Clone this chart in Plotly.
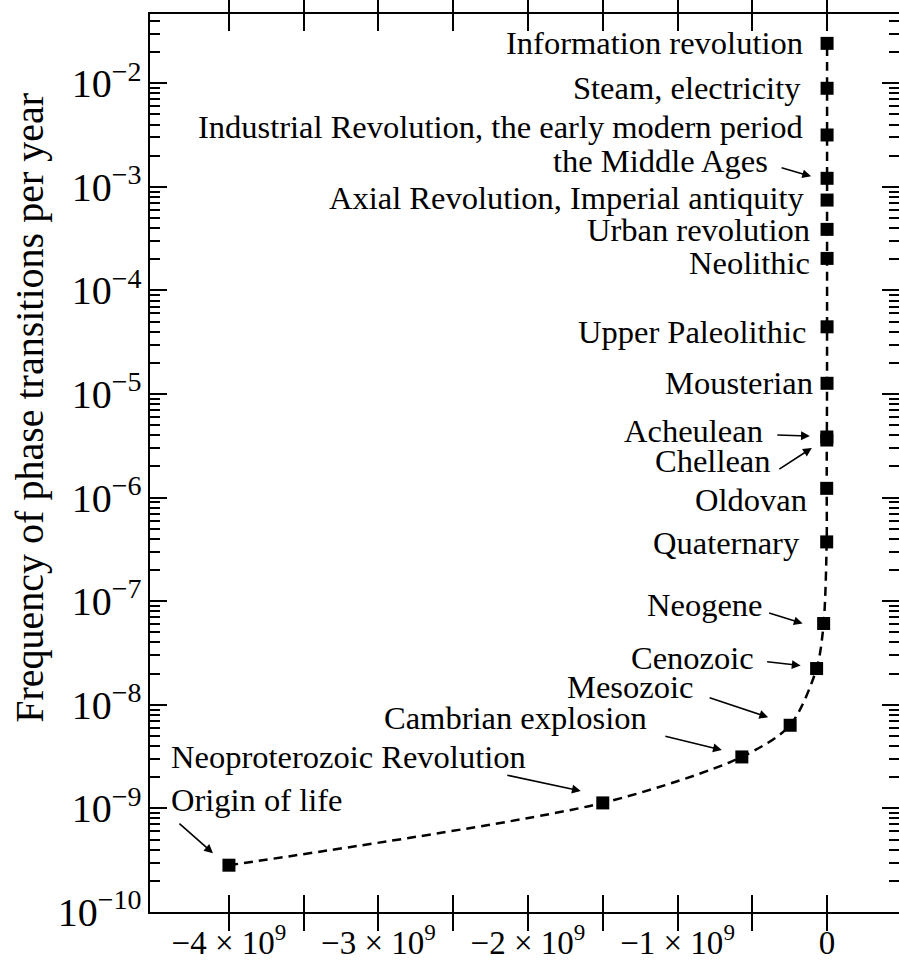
import numpy as np
import plotly.graph_objects as go

# Phase transitions: time (years, relative to present) and frequency (transitions per year)
event = [
    "Origin of life",
    "Neoproterozoic Revolution",
    "Cambrian explosion",
    "Mesozoic",
    "Cenozoic",
    "Neogene",
    "Quaternary",
    "Oldovan",
    "Chellean",
    "Acheulean",
    "Mousterian",
    "Upper Paleolithic",
    "Neolithic",
    "Urban revolution",
    "Axial Revolution, Imperial antiquity",
    "the Middle Ages",
    "Industrial Revolution, the early modern period",
    "Steam, electricity",
    "Information revolution",
]
years = [-4.0e9, -1.5e9, -0.57e9, -0.247e9, -0.07e9, -0.023e9, -2.6e6, -2.5e6,
         -1.8e6, -1.6e6, -3.0e5, -4.0e4, -1.0e4, -5.0e3, -2.5e3, -1.5e3, -500, -200, -50]
freq = [2.83e-10, 1.13e-9, 3.14e-9, 6.35e-9, 2.24e-8, 6.1e-8, 3.74e-7, 1.23e-6,
        3.6e-6, 3.85e-6, 1.27e-5, 4.46e-5, 2.04e-4, 3.89e-4, 7.46e-4, 1.21e-3,
        3.17e-3, 8.95e-3, 2.43e-2]

x_tick_vals = [-4e9, -3.5e9, -3e9, -2.5e9, -2e9, -1.5e9, -1e9, -0.5e9, 0]
x_tick_text = ["−4 × 10<sup>9</sup>", "", "−3 × 10<sup>9</sup>", "", "−2 × 10<sup>9</sup>", "",
               "−1 × 10<sup>9</sup>", "", "0"]

# Label layout: text anchor side, text offset from marker (px, +right/+down),
# and optional arrow (head offset from marker, tail offset from head) in px
label_layout = {
    "Origin of life": ("left", -60, -65, (-16, -12, -35, -31)),
    "Neoproterozoic Revolution": ("right", -75, -46, (-22, -12, -75, -16)),
    "Cambrian explosion": ("right", -93, -39, (-20, -7, -58, -14)),
    "Mesozoic": ("right", -95, -38, (-22, -8, -60, -20)),
    "Cenozoic": ("right", -61, -11, (-16, -3, -35, -4)),
    "Neogene": ("right", -59, -18, (-21, 0, -35, -11)),
    "Quaternary": ("right", -25, 1, None),
    "Oldovan": ("right", -18, 12, None),
    "Chellean": ("right", -54, 21, (-15, 8, -34, 22)),
    "Acheulean": ("right", -62, -6, (-17, -1, -34, -1)),
    "Mousterian": ("right", -12, 0, None),
    "Upper Paleolithic": ("right", -19, 5, None),
    "Neolithic": ("right", -15, 5, None),
    "Urban revolution": ("right", -15, 1, None),
    "Axial Revolution, Imperial antiquity": ("right", -20, -2, None),
    "the Middle Ages": ("right", -57, -17, (-16, -2, -31, -9)),
    "Industrial Revolution, the early modern period": ("right", -22, -8, None),
    "Steam, electricity": ("right", -24, 0, None),
    "Information revolution": ("right", -22, 0, None),
}

FONT = "Liberation Serif, Times New Roman, serif"

fig = go.Figure()
fig.add_trace(go.Scatter(
    x=years, y=freq, mode="lines+markers",
    line=dict(color="black", width=2.5, dash="9px,6px", shape="spline", smoothing=0.8),
    marker=dict(symbol="square", size=13, color="black"),
    showlegend=False, hoverinfo="skip",
))
# carrier for the right-hand tick column
fig.add_trace(go.Scatter(
    x=years, y=freq, mode="markers", yaxis="y2",
    marker=dict(opacity=0), showlegend=False, hoverinfo="skip",
))

annotations = []
for name, xv, fv in zip(event, years, freq):
    side, dx, dy, arrow = label_layout[name]
    ly = np.log10(fv)
    annotations.append(dict(
        x=xv, y=ly, xref="x", yref="y", text=name, showarrow=False,
        xanchor=side, yanchor="middle", xshift=dx, yshift=-dy,
        font=dict(family=FONT, size=32.5, color="black"),
    ))
    if arrow is not None:
        hx, hy, tx, ty = arrow
        annotations.append(dict(
            x=xv, y=ly, xref="x", yref="y", text="", showarrow=True,
            xshift=hx, yshift=-hy, ax=tx, ay=ty, axref="pixel", ayref="pixel",
            arrowhead=2, arrowsize=1.1, arrowwidth=1.6, arrowcolor="black",
        ))

annotations.append(dict(
    x=-0.161, y=0.562, xref="paper", yref="paper", textangle=-90,
    text="Frequency of phase transitions per year", showarrow=False,
    xanchor="center", yanchor="middle",
    font=dict(family=FONT, size=40, color="black"),
))

y_common = dict(
    type="log", range=[-10, -1.331], dtick=1,
    ticks="inside", ticklen=17, tickwidth=2, tickcolor="black",
    showgrid=False, zeroline=False, automargin=False,
    minor=dict(ticks="inside", ticklen=10, tickwidth=1.5, tickcolor="black",
               dtick="D1", showgrid=False),
)

fig.update_layout(
    width=899, height=960,
    margin=dict(l=150, r=0, t=14, b=48),
    paper_bgcolor="white", plot_bgcolor="white",
    font=dict(family=FONT, color="black"),
    xaxis=dict(
        range=[-4.528e9, 0.481e9], tickmode="array",
        tickvals=x_tick_vals, ticktext=x_tick_text,
        ticks="inside", ticklen=17, tickwidth=2, tickcolor="black",
        showline=True, linewidth=2, linecolor="black", mirror="allticks",
        showgrid=False, zeroline=False, automargin=False,
        tickfont=dict(family=FONT, size=33, color="black"),
    ),
    yaxis=dict(
        **y_common,
        exponentformat="power", showexponent="all",
        showline=True, linewidth=2, linecolor="black",
        tickfont=dict(family=FONT, size=32, color="black"),
        ticklabelstandoff=0,
    ),
    yaxis2=dict(
        **y_common,
        overlaying="y", side="right", anchor="x",
        showline=False, showticklabels=False,
    ),
    annotations=annotations,
)

fig.write_html("out.html")
